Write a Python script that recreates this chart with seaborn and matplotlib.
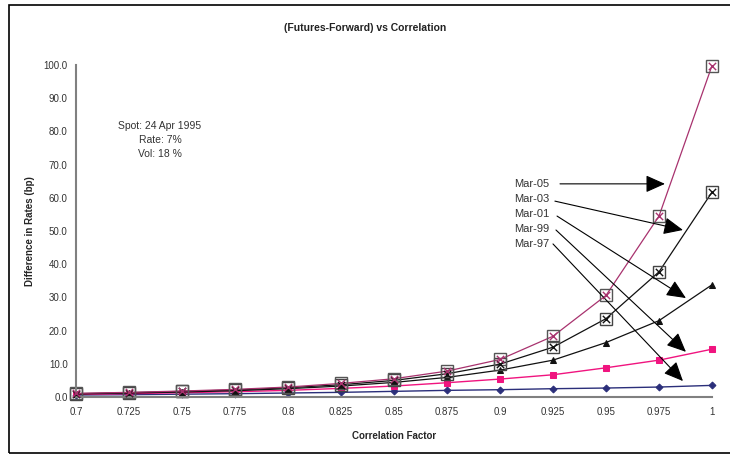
import matplotlib
matplotlib.use("Agg")
import matplotlib.pyplot as plt
import seaborn as sns
import pandas as pd
from matplotlib.patches import Rectangle

sns.set_style("white")
plt.rcParams['font.family'] = ['Liberation Sans', 'DejaVu Sans']

corr = [0.7, 0.725, 0.75, 0.775, 0.8, 0.825, 0.85, 0.875, 0.9, 0.925, 0.95, 0.975, 1.0]
x_labels = ["0.7", "0.725", "0.75", "0.775", "0.8", "0.825", "0.85", "0.875", "0.9", "0.925", "0.95", "0.975", "1"]
mar97 = [0.6, 0.7, 0.85, 1.0, 1.2, 1.4, 1.7, 2.0, 2.2, 2.5, 2.7, 3.0, 3.5]
mar99 = [0.8, 1.0, 1.3, 1.6, 2.0, 2.6, 3.3, 4.3, 5.4, 6.7, 8.8, 11.1, 14.4]
mar01 = [0.9, 1.2, 1.5, 1.9, 2.5, 3.3, 4.4, 5.9, 8.1, 11.1, 16.4, 23.0, 33.8]
mar03 = [1.0, 1.3, 1.7, 2.1, 2.8, 3.7, 5.0, 7.0, 9.9, 15.0, 23.6, 37.7, 61.7]
mar05 = [1.1, 1.4, 1.8, 2.3, 3.0, 4.1, 5.5, 7.8, 11.3, 18.3, 30.6, 54.5, 99.8]
series_names = ["Mar-05", "Mar-03", "Mar-01", "Mar-99", "Mar-97"]

df = pd.DataFrame({"corr": corr, "Mar-97": mar97, "Mar-99": mar99,
                   "Mar-01": mar01, "Mar-03": mar03, "Mar-05": mar05})

fig = plt.figure(figsize=(7.3, 4.55), dpi=100)
ax = fig.add_axes([76/730, 58/455, 636/730, 332/455])

# Mar-97 navy diamonds
sns.lineplot(data=df, x="corr", y="Mar-97", ax=ax, color="#2B2F7A", lw=1.0,
             marker="D", markersize=3.5, markeredgecolor="#2B2F7A", clip_on=False)
# Mar-99 magenta squares
sns.lineplot(data=df, x="corr", y="Mar-99", ax=ax, color="#F0147F", lw=1.0,
             marker="s", markersize=5, markeredgecolor="#F0147F", clip_on=False)
# Mar-01 black triangles
sns.lineplot(data=df, x="corr", y="Mar-01", ax=ax, color="#111111", lw=0.9,
             marker="^", markersize=5, markeredgecolor="#111111", clip_on=False)
# Mar-03 black line, open squares with x
sns.lineplot(data=df, x="corr", y="Mar-03", ax=ax, color="#111111", lw=0.9,
             marker="s", markersize=8, markerfacecolor="none", markeredgecolor="#444444",
             markeredgewidth=1.0, clip_on=False)
sns.scatterplot(data=df, x="corr", y="Mar-03", ax=ax, marker="x", s=28,
                color="#111111", linewidth=1.0, clip_on=False, zorder=5)
# Mar-05 maroon line, open squares with x
sns.lineplot(data=df, x="corr", y="Mar-05", ax=ax, color="#A8326E", lw=0.9,
             marker="s", markersize=8, markerfacecolor="none", markeredgecolor="#555555",
             markeredgewidth=1.0, clip_on=False)
sns.scatterplot(data=df, x="corr", y="Mar-05", ax=ax, marker="x", s=28,
                color="#A8326E", linewidth=1.0, clip_on=False, zorder=5)

ax.set_xlim(0.7, 1.0)
ax.set_ylim(0, 100)
ax.set_xticks(corr)
ax.set_xticklabels(x_labels)
ax.set_yticks(range(0, 101, 10))
ax.set_yticklabels([f"{v:.1f}" for v in range(0, 101, 10)])
for s in ["top", "right"]:
    ax.spines[s].set_visible(False)
for s in ["left", "bottom"]:
    ax.spines[s].set_color("#808080")
    ax.spines[s].set_linewidth(1.5)
ax.tick_params(axis="both", direction="inout", length=6, width=1.0, colors="#222222",
               labelsize=7, labelcolor="#333333")
ax.tick_params(axis="x", pad=4)
ax.tick_params(axis="y", pad=3)
ax.set_xlabel("Correlation Factor", fontsize=7, fontweight="bold", labelpad=10)
ax.set_ylabel("Difference in Rates (bp)", fontsize=7, fontweight="bold", labelpad=6)
ax.patch.set_alpha(0)

fig.text(365/730, 1 - 28/455, "(Futures-Forward) vs Correlation", ha="center", va="center",
         fontsize=7.5, fontweight="bold", color="#222222")

ax.text(0.7396, 77.4, "Spot: 24 Apr 1995\nRate: 7%\nVol: 18 %", ha="center", va="center",
        fontsize=7.5, color="#333333", linespacing=1.45)

label_y = [64.2, 59.6, 55.1, 50.6, 46.1]
starts = [(0.9283, 64.2), (0.9259, 59.0), (0.9269, 54.5), (0.9264, 50.3), (0.9250, 46.1)]
ends = [(0.9778, 64.2), (0.9863, 50.3), (0.9877, 29.8), (0.9877, 13.6), (0.9863, 4.8)]
for name, ly, st, en in zip(series_names, label_y, starts, ends):
    ax.text(0.9066, ly, name, ha="left", va="center", fontsize=8, color="#333333")
    ax.annotate("", xy=en, xytext=st,
                arrowprops=dict(arrowstyle="-|>,head_length=0.85,head_width=0.38",
                                mutation_scale=14, color="black", lw=0.8,
                                shrinkA=0, shrinkB=0))

fig.patches.append(Rectangle((9/730, 2/455), 1.2, (451 - 4)/455 + 0.002,
                             transform=fig.transFigure, fill=False,
                             edgecolor="black", lw=1.2))

fig.savefig("out.png", dpi=100)
